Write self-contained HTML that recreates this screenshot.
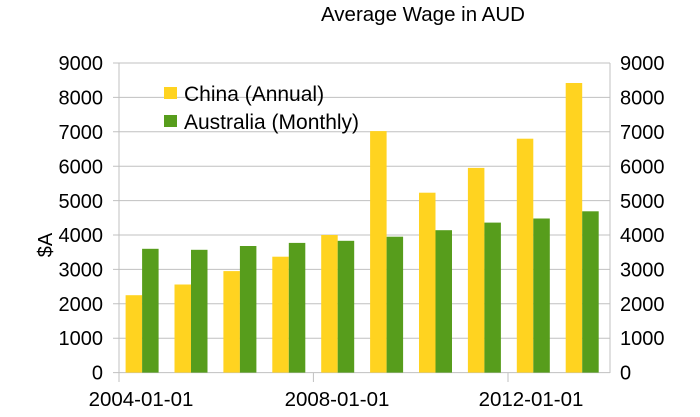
<!DOCTYPE html>
<html><head><style>body{margin:0;background:#fff}svg{display:block}text{font-family:"Liberation Sans",Arial,sans-serif;fill:#000}</style></head><body>
<svg width="700" height="417" viewBox="0 0 700 417">
<text x="423" y="21" font-size="20.5" text-anchor="middle">Average Wage in AUD</text>
<g stroke="#c0c0c0" stroke-width="1">
<line x1="113" x2="610" y1="63" y2="63"/><line x1="113" x2="610" y1="97.4" y2="97.4"/><line x1="113" x2="610" y1="131.8" y2="131.8"/><line x1="113" x2="610" y1="166.2" y2="166.2"/><line x1="113" x2="610" y1="200.6" y2="200.6"/><line x1="113" x2="610" y1="235" y2="235"/><line x1="113" x2="610" y1="269.4" y2="269.4"/><line x1="113" x2="610" y1="303.8" y2="303.8"/><line x1="113" x2="610" y1="338.2" y2="338.2"/><line x1="113" x2="610" y1="372.6" y2="372.6"/>
<line x1="119" x2="119" y1="63" y2="382"/><line x1="610" x2="610" y1="63" y2="373"/>
<line x1="313.4" x2="313.4" y1="372.6" y2="382"/><line x1="508" x2="508" y1="372.6" y2="382"/>
</g>
<g fill="#FFD320">
<rect x="125.6" y="295.2" width="16.5" height="77.4"/>
<rect x="174.5" y="284.5" width="16.5" height="88.1"/>
<rect x="223.4" y="271.1" width="16.5" height="101.5"/>
<rect x="272.3" y="256.7" width="16.5" height="115.9"/>
<rect x="321.2" y="235.0" width="16.5" height="137.6"/>
<rect x="370.1" y="131.1" width="16.5" height="241.5"/>
<rect x="419.0" y="192.7" width="16.5" height="179.9"/>
<rect x="467.9" y="167.9" width="16.5" height="204.7"/>
<rect x="516.8" y="138.7" width="16.5" height="233.9"/>
<rect x="565.7" y="83.0" width="16.5" height="289.6"/>
</g>
<g fill="#579D1C">
<rect x="142.1" y="248.8" width="16.5" height="123.8"/>
<rect x="191.0" y="249.8" width="16.5" height="122.8"/>
<rect x="239.9" y="246.0" width="16.5" height="126.6"/>
<rect x="288.8" y="242.9" width="16.5" height="129.7"/>
<rect x="337.7" y="240.8" width="16.5" height="131.8"/>
<rect x="386.6" y="236.7" width="16.5" height="135.9"/>
<rect x="435.5" y="230.2" width="16.5" height="142.4"/>
<rect x="484.4" y="222.6" width="16.5" height="150.0"/>
<rect x="533.3" y="218.5" width="16.5" height="154.1"/>
<rect x="582.2" y="211.3" width="16.5" height="161.3"/>
</g>
<g font-size="20" text-anchor="end">
<text x="103" y="70">9000</text><text x="103" y="104.5">8000</text><text x="103" y="139">7000</text><text x="103" y="173.5">6000</text><text x="103" y="208">5000</text><text x="103" y="242">4000</text><text x="103" y="276.5">3000</text><text x="103" y="311">2000</text><text x="103" y="345">1000</text><text x="103" y="379.5">0</text>
</g>
<g font-size="20" text-anchor="start">
<text x="620" y="70">9000</text><text x="620" y="104.5">8000</text><text x="620" y="139">7000</text><text x="620" y="173.5">6000</text><text x="620" y="208">5000</text><text x="620" y="242">4000</text><text x="620" y="276.5">3000</text><text x="620" y="311">2000</text><text x="620" y="345">1000</text><text x="620" y="379.5">0</text>
</g>
<text transform="translate(52,245) rotate(-90)" font-size="20" text-anchor="middle">$A</text>
<g font-size="20.5" text-anchor="middle"><text x="141" y="406">2004-01-01</text><text x="337" y="406">2008-01-01</text><text x="531" y="406">2012-01-01</text></g>
<rect x="164" y="87" width="13" height="12" fill="#FFD320"/><text x="184" y="101" font-size="21">China (Annual)</text>
<rect x="164" y="115" width="13" height="12" fill="#579D1C"/><text x="184" y="129" font-size="21">Australia (Monthly)</text>
</svg>
</body></html>
